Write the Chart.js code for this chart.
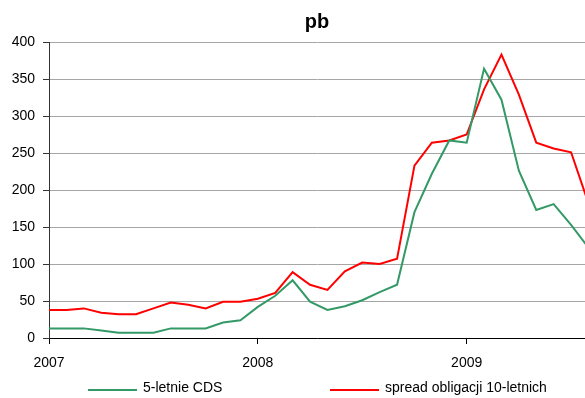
<!DOCTYPE html>
<html>
<head>
<meta charset="utf-8">
<script src="https://cdn.jsdelivr.net/npm/chart.js@4/dist/chart.umd.min.js"></script>
<style>
    html, body { margin: 0; padding: 0; background: #fff; }
    #wrap { position: relative; width: 585px; height: 398px; font-family: "Liberation Sans", Arial, sans-serif; }
    canvas { position: absolute; left: 0; top: 0; }
    .leg { position: absolute; top: 379px; font-size: 14px; color: #000; white-space: nowrap; line-height: 16px; }
    .leg span.line { position: absolute; top: 10px; width: 49px; height: 0; border-top: 2px solid; }
    .leg span.txt { position: absolute; top: 0; }
</style>
</head>
<body>
<div id="wrap">
    <canvas id="chart" width="585" height="398"></canvas>
    <div class="leg" style="left:88px"><span class="line" style="left:0;border-color:#339966"></span><span class="txt" style="left:55px">5-letnie CDS</span></div>
    <div class="leg" style="left:330px"><span class="line" style="left:0;border-color:#ff0000"></span><span class="txt" style="left:55px">spread obligacji 10-letnich</span></div>
</div>
<script>
// monthly values, Jan 2007 - Aug 2009 (pb)
const years = ['2007', '2008', '2009'];
const cds5y = [13, 13, 13, 10, 7, 7, 7, 13, 13, 13, 21, 24,
    42, 57, 78, 49, 38, 43, 51, 62, 72, 170, 222, 267,
    264, 364, 322, 226, 173, 181, 153, 122];
const spread10y = [38, 38, 40, 34, 32, 32, 40, 48, 45, 40, 49, 49,
    53, 61, 89, 72, 65, 90, 102, 100, 107, 233, 264, 267,
    275, 336, 383, 329, 264, 256, 251, 182];
const yTicks = [0, 50, 100, 150, 200, 250, 300, 350, 400];

const font = { family: '"Liberation Sans", Arial, sans-serif', size: 14 };

function toPoints(values) {
    return values.map((v, i) => ({ x: i, y: v }));
}

new Chart(document.getElementById('chart'), {
    type: 'line',
    data: {
        datasets: [
            {
                label: '5-letnie CDS',
                data: toPoints(cds5y),
                borderColor: '#339966',
                borderWidth: 2,
                pointRadius: 0,
                tension: 0
            },
            {
                label: 'spread obligacji 10-letnich',
                data: toPoints(spread10y),
                borderColor: '#ff0000',
                borderWidth: 2,
                pointRadius: 0,
                tension: 0
            }
        ]
    },
    options: {
        responsive: false,
        animation: false,
        layout: { padding: { left: 0, right: 0, top: 0, bottom: 0 } },
        plugins: {
            legend: { display: false },
            tooltip: { enabled: false },
            title: {
                display: true,
                text: 'pb',
                fullSize: false,
                color: '#000',
                font: { family: font.family, size: 20, weight: 'bold' },
                padding: { top: 10, bottom: 8 }
            }
        },
        scales: {
            x: {
                type: 'linear',
                min: 0,
                max: 30.8,
                afterBuildTicks: function (scale) {
                    scale.ticks = years.map((y, i) => ({ value: i * 12 }));
                },
                afterFit: function (scale) {
                    scale.height = 60;
                },
                ticks: {
                    color: '#000',
                    font: font,
                    padding: 11,
                    maxRotation: 0,
                    callback: function (value) {
                        return years[Math.round(value / 12)];
                    }
                },
                grid: {
                    drawOnChartArea: false,
                    tickLength: 6,
                    tickColor: '#000'
                },
                border: { color: '#000', width: 1 }
            },
            y: {
                min: 0,
                max: 400,
                afterBuildTicks: function (scale) {
                    scale.ticks = yTicks.map(v => ({ value: v }));
                },
                afterFit: function (scale) {
                    scale.width = 49;
                },
                ticks: {
                    color: '#000',
                    font: font,
                    padding: 8
                },
                grid: {
                    color: '#a6a6a6',
                    tickLength: 6,
                    tickColor: '#333'
                },
                border: { color: '#333', width: 1 }
            }
        }
    }
});
</script>
</body>
</html>
